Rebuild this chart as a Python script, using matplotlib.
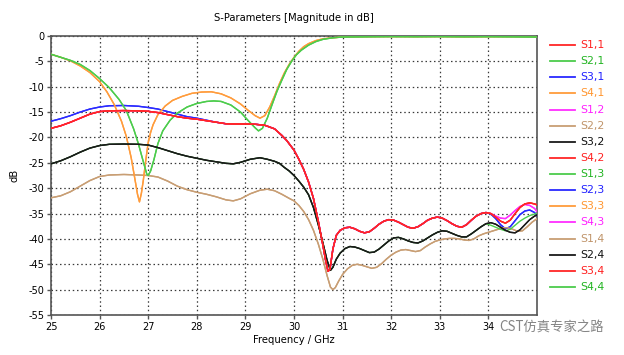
import numpy as np
import matplotlib
matplotlib.use("Agg")
import matplotlib.pyplot as plt
from matplotlib.lines import Line2D

plt.rcParams['font.family'] = ['DejaVu Sans']
plt.rcParams['axes.unicode_minus'] = False

# upper trace (S1,1 / S4,2 / S3,4 and the magenta / blue ones up to 34 GHz)
f_a = [25.0, 25.2, 25.4, 25.6, 25.8, 26.0, 26.2, 26.5, 26.8, 27.0, 27.2, 27.4, 27.6, 27.8,
       28.0, 28.2, 28.4, 28.6, 28.8, 29.0, 29.2, 29.4, 29.6, 29.75, 29.85, 30.0, 30.1, 30.2,
       30.3, 30.4, 30.5, 30.58, 30.65, 30.7, 30.74, 30.8, 30.87, 30.95, 31.05, 31.15, 31.25,
       31.35, 31.45, 31.55, 31.65, 31.75, 31.85, 31.95, 32.05, 32.15, 32.25, 32.35, 32.45,
       32.55, 32.65, 32.75, 32.85, 32.95, 33.05, 33.15, 33.25, 33.35, 33.45, 33.55, 33.65,
       33.75, 33.85, 33.95]
s_a = [-18.2, -17.7, -17.0, -16.2, -15.4, -14.9, -14.75, -14.7, -14.75, -14.85, -15.1, -15.5,
       -15.9, -16.2, -16.4, -16.7, -17.0, -17.3, -17.35, -17.35, -17.4, -17.6, -18.3, -19.6,
       -20.6, -22.5, -24.3, -26.3, -28.8, -32.0, -36.5, -40.5, -44.2, -46.4, -46.0, -42.0,
       -39.3, -38.3, -37.8, -37.7, -38.0, -38.5, -38.8, -38.6, -37.9, -37.1, -36.5, -36.2,
       -36.3, -36.7, -37.2, -37.7, -37.9, -37.6, -37.0, -36.3, -35.9, -35.7, -35.9, -36.4,
       -37.0, -37.5, -37.7, -37.2, -36.3, -35.5, -35.0, -34.8]

# the blue traces sit a little higher below 28.6 GHz
f_blue_head = [25.0, 25.2, 25.4, 25.6, 25.8, 26.0, 26.2, 26.5, 26.8, 27.0, 27.2, 27.4, 27.6,
               27.8, 28.0, 28.2, 28.4, 28.6]
s_blue_head = [-16.8, -16.3, -15.7, -15.0, -14.4, -14.0, -13.75, -13.7, -13.85, -14.1, -14.4,
               -14.9, -15.4, -15.9, -16.2, -16.6, -17.0, -17.3]

# last GHz, where the traces split
f_tail = [34.05, 34.15, 34.25, 34.35, 34.45, 34.55, 34.65, 34.75, 34.85, 34.95, 35.0]
s_red_tail = [-35.0, -35.7, -36.5, -36.9, -36.3, -35.0, -33.8, -33.1, -32.9, -33.1, -33.3]
s_mag_tail = [-35.0, -35.5, -35.9, -36.0, -35.3, -34.4, -33.6, -33.2, -33.4, -34.0, -34.6]
s_blue_tail = [-35.1, -36.0, -37.2, -38.0, -37.6, -36.4, -35.2, -34.5, -34.3, -34.8, -35.4]
s_black_tail = [-36.8, -37.1, -37.7, -38.3, -38.7, -38.8, -38.2, -37.2, -36.2, -35.5, -35.3]
s_green_tail = [-37.3, -37.7, -38.1, -38.4, -38.1, -37.3, -36.5, -35.9, -35.4, -35.1, -35.0]

# black / green trace (S3,2 / S2,4 / S1,3)
f_k = [25.0, 25.2, 25.4, 25.6, 25.8, 26.0, 26.2, 26.5, 26.8, 27.0, 27.2, 27.4, 27.6, 27.8,
       28.0, 28.2, 28.4, 28.6, 28.75, 28.9, 29.1, 29.3, 29.45, 29.6, 29.7, 29.8, 29.9, 30.0,
       30.1, 30.2, 30.3, 30.4, 30.5, 30.6, 30.68, 30.75, 30.8, 30.87, 30.95, 31.05, 31.15,
       31.25, 31.35, 31.45, 31.55, 31.65, 31.75, 31.85, 31.95, 32.05, 32.15, 32.25, 32.35,
       32.45, 32.55, 32.65, 32.75, 32.85, 32.95, 33.05, 33.15, 33.25, 33.35, 33.45, 33.55,
       33.65, 33.75, 33.85, 33.95]
s_k = [-25.2, -24.6, -23.8, -22.9, -22.1, -21.6, -21.35, -21.3, -21.35, -21.5, -22.0, -22.6,
       -23.2, -23.7, -24.1, -24.5, -24.8, -25.1, -25.2, -24.9, -24.3, -24.0, -24.3, -24.7,
       -25.1, -25.9, -26.6, -27.5, -28.6, -29.8, -31.3, -33.8, -37.2, -41.0, -44.2, -46.2,
       -45.6, -44.0, -42.8, -41.9, -41.5, -41.6, -41.9, -42.3, -42.7, -42.6, -42.0, -41.2,
       -40.4, -39.8, -39.7, -40.0, -40.4, -40.7, -40.8, -40.4, -39.8, -39.2, -38.7, -38.4,
       -38.5, -38.9, -39.3, -39.6, -39.6, -39.0, -38.3, -37.6, -37.0]

# tan trace (S2,2 / S1,4)
f_t = [25.0, 25.2, 25.4, 25.6, 25.8, 26.0, 26.2, 26.5, 26.8, 27.0, 27.2, 27.4, 27.6, 27.8,
       28.0, 28.2, 28.4, 28.6, 28.75, 28.9, 29.1, 29.3, 29.45, 29.6, 29.75, 29.9, 30.0, 30.1,
       30.2, 30.3, 30.4, 30.5, 30.6, 30.68, 30.75, 30.8, 30.85, 30.92, 31.0, 31.1, 31.2, 31.3,
       31.4, 31.5, 31.6, 31.7, 31.8, 31.9, 32.0, 32.1, 32.2, 32.3, 32.4, 32.5, 32.6, 32.7,
       32.8, 32.9, 33.0, 33.1, 33.2, 33.3, 33.4, 33.5, 33.6, 33.7, 33.8, 33.9, 34.0, 34.1,
       34.2, 34.3, 34.4, 34.5, 34.6, 34.7, 34.8, 34.9, 35.0]
s_t = [-31.9, -31.5, -30.7, -29.6, -28.5, -27.7, -27.4, -27.3, -27.4, -27.5, -27.8, -28.6,
       -29.6, -30.3, -30.8, -31.2, -31.7, -32.3, -32.5, -32.1, -31.1, -30.4, -30.2, -30.5,
       -31.2, -32.0, -32.5, -33.4, -34.6, -36.2, -38.3, -41.0, -44.2, -47.2, -49.5, -50.0,
       -49.6, -48.3, -47.0, -45.9, -45.2, -45.0, -45.2, -45.5, -45.8, -45.6, -44.9, -44.0,
       -43.2, -42.6, -42.2, -42.1, -42.3, -42.5, -42.3, -41.6, -41.0, -40.5, -40.2, -40.0,
       -39.9, -39.9, -40.0, -40.2, -40.3, -40.0, -39.4, -39.0, -38.7, -38.4, -38.1, -37.8,
       -37.8, -38.1, -38.5, -38.4, -37.6, -36.7, -36.0]

# orange trace (S4,1 / S3,3)
f_o = [25.0, 25.2, 25.4, 25.6, 25.8, 26.0, 26.15, 26.3, 26.45, 26.55, 26.65, 26.73, 26.78,
       26.82, 26.86, 26.9, 26.95, 27.0, 27.05, 27.1, 27.2, 27.35, 27.5, 27.7, 27.9, 28.1,
       28.3, 28.5, 28.7, 28.9, 29.05, 29.2, 29.3, 29.4, 29.5, 29.6, 29.7, 29.8, 29.9, 30.0,
       30.1, 30.2, 30.3, 30.45, 30.6, 30.8, 31.0, 31.5, 32.0, 32.5, 33.0, 33.5, 34.0, 34.5, 35.0]
s_o = [-3.6, -4.2, -4.9, -5.9, -7.2, -9.0, -11.0, -13.5, -16.8, -19.8, -24.0, -28.4, -31.2,
       -32.7, -31.0, -28.4, -24.5, -21.0, -19.0, -17.5, -15.5, -13.8, -12.7, -11.9, -11.3,
       -11.05, -11.0, -11.4, -12.2, -13.4, -14.6, -15.7, -16.2, -15.7, -14.0, -11.8, -9.4,
       -7.3, -5.6, -4.2, -3.0, -2.1, -1.5, -0.9, -0.55, -0.35, -0.2, -0.15, -0.12, -0.15,
       -0.12, -0.18, -0.14, -0.15, -0.2]

# green trace (S2,1 / S4,4)
f_g = [25.0, 25.2, 25.4, 25.6, 25.8, 26.0, 26.2, 26.4, 26.55, 26.7, 26.8, 26.9, 26.97, 27.0,
       27.05, 27.12, 27.2, 27.3, 27.45, 27.6, 27.8, 28.0, 28.2, 28.35, 28.5, 28.7, 28.9,
       29.05, 29.2, 29.27, 29.35, 29.45, 29.55, 29.65, 29.75, 29.85, 29.95, 30.05, 30.15,
       30.3, 30.45, 30.6, 30.8, 31.0, 31.5, 32.0, 32.5, 33.0, 33.5, 34.0, 34.5, 35.0]
s_g = [-3.6, -4.2, -4.8, -5.6, -6.8, -8.4, -10.2, -12.5, -14.7, -18.3, -21.3, -24.8, -27.2,
       -27.5, -26.6, -24.3, -21.2, -18.7, -16.6, -15.2, -14.0, -13.3, -12.9, -12.8, -12.9,
       -13.6, -15.0, -16.6, -18.1, -18.7, -18.2, -16.2, -13.5, -10.9, -8.7, -6.6, -5.0,
       -3.7, -2.8, -1.8, -1.1, -0.65, -0.35, -0.2, -0.15, -0.12, -0.14, -0.12, -0.15, -0.13,
       -0.16, -0.2]

labels = ['S1,1', 'S2,1', 'S3,1', 'S4,1', 'S1,2', 'S2,2', 'S3,2', 'S4,2',
          'S1,3', 'S2,3', 'S3,3', 'S4,3', 'S1,4', 'S2,4', 'S3,4', 'S4,4']

RED, GREEN, BLUE, ORANGE = '#ff2626', '#4ccc4c', '#2a2aff', '#ff9c3c'
MAGENTA, TAN, BLACK = '#ff2eff', '#c89e74', '#1a1a1a'
line_colors = [RED, GREEN, BLUE, ORANGE, MAGENTA, TAN, BLACK, RED,
               GREEN, BLUE, ORANGE, MAGENTA, TAN, BLACK, RED, GREEN]
text_colors = ['#ff2020', '#22b422', '#2020ff', '#ff9630', '#ff20ff', '#c0946a', '#111111', '#ff2020',
               '#22b422', '#2020ff', '#ff9630', '#ff20ff', '#c0946a', '#111111', '#ff2020', '#22b422']


def join(fa, sa, fb, sb):
    return np.concatenate([fa, fb]), np.concatenate([sa, sb])


fa = np.array(f_a)
sa = np.array(s_a)
red = join(fa, sa, f_tail, s_red_tail)
mag = join(fa, sa, f_tail, s_mag_tail)
keep = fa > f_blue_head[-1]
blue = join(np.concatenate([f_blue_head, fa[keep]]), np.concatenate([s_blue_head, sa[keep]]),
            f_tail, s_blue_tail)
black = join(f_k, s_k, f_tail, s_black_tail)
green_k = join(f_k, s_k, f_tail, s_green_tail)
tan = (f_t, s_t)
orange = (f_o, s_o)
green = (f_g, s_g)

traces = {
    'S1,1': red, 'S2,1': green, 'S3,1': blue, 'S4,1': orange,
    'S1,2': mag, 'S2,2': tan, 'S3,2': black, 'S4,2': red,
    'S1,3': green_k, 'S2,3': blue, 'S3,3': orange, 'S4,3': mag,
    'S1,4': tan, 'S2,4': black, 'S3,4': red, 'S4,4': green,
}
# which one ends up on top where traces coincide
zorders = {'S1,1': 8, 'S2,1': 6, 'S3,1': 4, 'S4,1': 5, 'S1,2': 6, 'S2,2': 4, 'S3,2': 7,
           'S4,2': 8, 'S1,3': 6, 'S2,3': 4, 'S3,3': 5, 'S4,3': 6, 'S1,4': 4, 'S2,4': 7,
           'S3,4': 8, 'S4,4': 6}

W, H = 624, 355
fig = plt.figure(figsize=(W / 100, H / 100), dpi=100)
ax = fig.add_axes([51 / W, 1 - 315 / H, (537 - 51) / W, (315 - 36) / H])

for lab, col in zip(labels, line_colors):
    f, s = traces[lab]
    ax.plot(f, s, color=col, lw=1.0, zorder=zorders[lab], solid_joinstyle='round')

ax.set_xlim(25, 35)
ax.set_ylim(-55, 0)
ax.set_xticks(range(25, 35))
ax.set_yticks(range(-55, 1, 5))
ax.grid(True, color='#3a3a3a', linestyle=(0, (1.2, 2.2)), linewidth=0.9)
ax.set_axisbelow(True)
for sp in ax.spines.values():
    sp.set_color('#555555')
    sp.set_linewidth(1.2)
ax.tick_params(labelsize=7, length=3, width=1, color='#555555', pad=2)

fig.text(294 / W, 1 - 18 / H, 'S-Parameters [Magnitude in dB]', ha='center', va='center', fontsize=7.2)
fig.text(294 / W, 1 - 340 / H, 'Frequency / GHz', ha='center', va='center', fontsize=7.2)
fig.text(15 / W, 1 - 175 / H, 'dB', ha='center', va='center', rotation=90, fontsize=7.2)

# legend drawn by hand, next to the plot
for i, lab in enumerate(labels):
    yy = 1 - (45 + i * 16.13) / H
    fig.add_artist(Line2D([550 / W, 575 / W], [yy, yy], color=line_colors[i], lw=1.3))
    fig.text(580 / W, yy, lab, color=text_colors[i], ha='left', va='center', fontsize=7.8)

# watermark, kept just clear of the "34" tick label
fig.text(499 / W, 1 - 328 / H, 'CST仿真专家之路', color='#777777', ha='left', va='center',
         fontsize=9.6, family=['Noto Sans CJK SC', 'DejaVu Sans'], alpha=0.9)

fig.savefig('out.png', dpi=100)
